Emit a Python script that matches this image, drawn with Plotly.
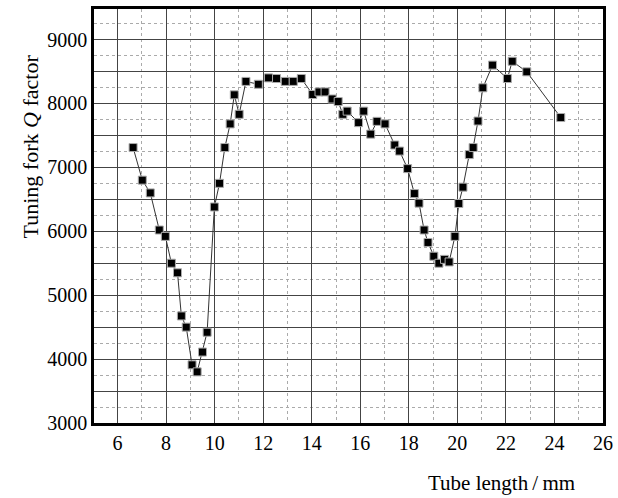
import plotly.graph_objects as go

tube_length = [6.64, 7.02, 7.35, 7.72, 7.97, 8.22, 8.47, 8.63, 8.83, 9.07, 9.28, 9.50, 9.69,
               9.99, 10.20, 10.42, 10.64, 10.81, 11.01, 11.29, 11.80, 12.22, 12.55, 12.91,
               13.24, 13.57, 14.04, 14.30, 14.55, 14.84, 15.09, 15.28, 15.46, 15.93, 16.14,
               16.43, 16.69, 17.02, 17.42, 17.62, 17.95, 18.23, 18.42, 18.63, 18.79, 19.03,
               19.24, 19.47, 19.66, 19.90, 20.06, 20.23, 20.49, 20.65, 20.85, 21.05, 21.45,
               22.06, 22.26, 22.86, 24.26]
q_factor = [7310, 6800, 6600, 6020, 5920, 5500, 5350, 4675, 4500, 3910, 3800, 4110, 4420,
            6380, 6750, 7310, 7680, 8135, 7830, 8345, 8300, 8400, 8390, 8345,
            8345, 8390, 8140, 8180, 8180, 8070, 8030, 7830, 7880, 7700, 7880,
            7520, 7720, 7680, 7350, 7255, 6980, 6590, 6440, 6020, 5825, 5610,
            5500, 5560, 5520, 5920, 6435, 6690, 7200, 7310, 7725, 8245, 8600,
            8390, 8660, 8495, 7780]

x_ticks = [6, 8, 10, 12, 14, 16, 18, 20, 22, 24, 26]
y_grid = [3000, 3500, 4000, 4500, 5000, 5500, 6000, 6500, 7000, 7500, 8000, 8500, 9000]
y_labels = ["3000", "", "4000", "", "5000", "", "6000", "", "7000", "", "8000", "", "9000"]

FONT = "Liberation Serif"

fig = go.Figure()
fig.add_trace(go.Scatter(
    x=tube_length, y=q_factor, mode="lines+markers",
    line=dict(color="#333333", width=1),
    marker=dict(symbol="square", size=8, color="black",
                line=dict(color="#aaaaaa", width=1)),
    showlegend=False,
))

fig.update_layout(
    width=618, height=498,
    margin=dict(l=94, r=15, t=9, b=75, autoexpand=False),
    paper_bgcolor="white", plot_bgcolor="white",
    font=dict(family=FONT, size=20, color="black"),
    xaxis=dict(
        range=[5.03, 26], tickvals=x_ticks, ticktext=[str(v) for v in x_ticks],
        showgrid=True, gridcolor="#444444", gridwidth=1,
        minor=dict(dtick=1, tick0=0, showgrid=True, gridcolor="#aaaaaa",
                   griddash="dot", gridwidth=1),
        showline=True, linecolor="black", linewidth=2.5, mirror=True,
        ticks="", zeroline=False, ticklabelstandoff=0, automargin=False,
        tickfont=dict(family=FONT, size=20),
    ),
    yaxis=dict(
        range=[3000, 9478], tickvals=y_grid, ticktext=y_labels,
        showgrid=True, gridcolor="#444444", gridwidth=1,
        minor=dict(dtick=250, tick0=0, showgrid=True, gridcolor="#aaaaaa",
                   griddash="dot", gridwidth=1),
        showline=True, linecolor="black", linewidth=2.5, mirror=True,
        ticks="", zeroline=False, ticklabelstandoff=0, automargin=False,
        tickfont=dict(family=FONT, size=20),
    ),
    annotations=[
        dict(text="Tuning fork <i>Q</i> factor", textangle=-90,
             xref="paper", yref="paper", x=-0.125, y=0.669,
             xanchor="center", yanchor="middle", showarrow=False,
             font=dict(family=FONT, size=22)),
        dict(text="Tube length\u2009/\u2009mm",
             xref="paper", yref="paper", x=0.801, y=-0.146,
             xanchor="center", yanchor="middle", showarrow=False,
             font=dict(family=FONT, size=21)),
    ],
)

fig.write_html("out.html", config={"displayModeBar": False},
               post_script="document.body.style.margin='0';")
